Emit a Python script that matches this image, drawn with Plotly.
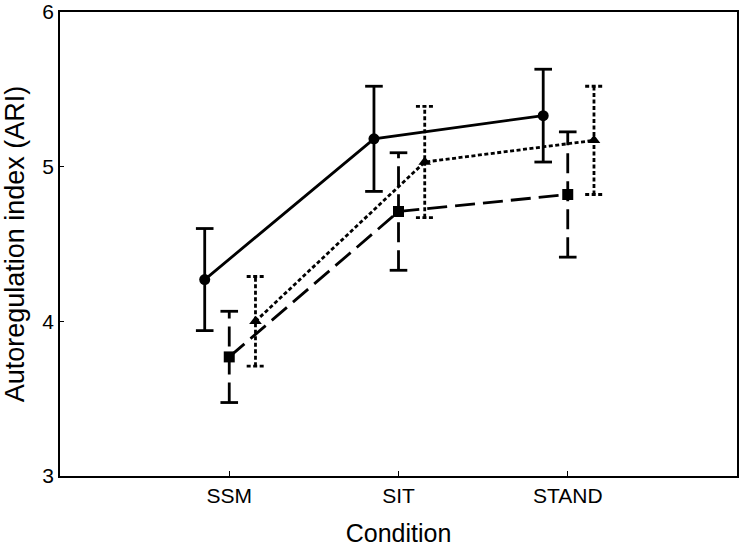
import plotly.graph_objects as go

conditions = ["SSM", "SIT", "STAND"]
cond_pos = [1, 2, 3]

# series values (mean) and error half-widths
solid_mean = [4.27, 5.18, 5.33]
solid_err = [0.33, 0.34, 0.30]
dashed_mean = [3.77, 4.71, 4.82]
dashed_err = [0.295, 0.38, 0.405]
dotted_mean = [4.00, 5.03, 5.17]
dotted_err = [0.29, 0.36, 0.35]

offsets = {"solid": -0.145, "dashed": 0.0, "dotted": 0.155}
cap = 0.052

series = [
    ("solid", solid_mean, solid_err, "solid", "circle", 11),
    ("dashed", dashed_mean, dashed_err, "20px,8px", "square", 11),
    ("dotted", dotted_mean, dotted_err, "4px,2.5px", "triangle-up", 11),
]

fig = go.Figure()
for name, mean, err, dash, sym, msize in series:
    xs = [p + offsets[name] for p in cond_pos]
    ex, ey = [], []
    for x, m, e in zip(xs, mean, err):
        ex += [x, x, None, x - cap, x + cap, None, x - cap, x + cap, None]
        ey += [m - e, m + e, None, m + e, m + e, None, m - e, m - e, None]
    fig.add_trace(go.Scatter(x=ex, y=ey, mode="lines",
                             line=dict(color="black", width=2.8, dash=dash),
                             hoverinfo="skip", showlegend=False))
    fig.add_trace(go.Scatter(x=xs, y=mean, mode="lines+markers",
                             line=dict(color="black", width=2.8, dash=dash),
                             marker=dict(symbol=sym, size=msize, color="black"),
                             showlegend=False, name=name))

font_family = "Arial, Liberation Sans, sans-serif"
fig.update_layout(
    width=742, height=547,
    margin=dict(l=60, r=5, t=12, b=71),
    paper_bgcolor="white", plot_bgcolor="white",
    font=dict(family=font_family, color="black"),
    showlegend=False,
    xaxis=dict(range=[0, 4], tickvals=cond_pos, ticktext=conditions,
               showgrid=False, zeroline=False, automargin=False,
               showline=True, linecolor="black", linewidth=1.5, mirror=True,
               ticks="inside", ticklen=5, tickwidth=1, tickcolor="black",
               tickfont=dict(size=21),
               title=dict(text="Condition", font=dict(size=25), standoff=20)),
    yaxis=dict(range=[3, 6], tickvals=[3, 4, 5, 6],
               showgrid=False, zeroline=False, automargin=False,
               showline=True, linecolor="black", linewidth=1.5, mirror=True,
               ticks="inside", ticklen=4, tickwidth=1, tickcolor="black",
               tickfont=dict(size=21),
               title=dict(text="Autoregulation index (ARI)", font=dict(size=27), standoff=13)),
)

fig.write_html("out.html",
               config={"displayModeBar": False},
               post_script="document.body.style.margin='0px';document.body.style.overflow='hidden';")
